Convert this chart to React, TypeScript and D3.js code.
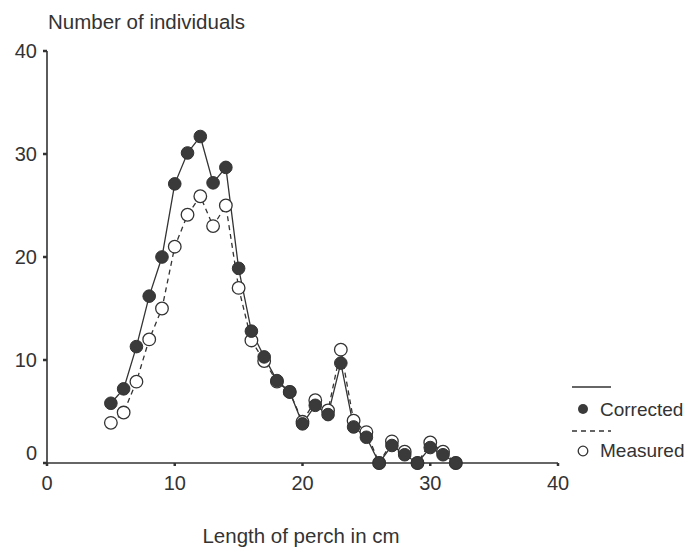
import React from "react";
import * as d3 from "d3";

const lengths = [5, 6, 7, 8, 9, 10, 11, 12, 13, 14, 15, 16, 17, 18, 19, 20, 21, 22, 23, 24, 25, 26, 27, 28, 29, 30, 31, 32];
const corrected = [5.8, 7.2, 11.3, 16.2, 20, 27.1, 30.1, 31.7, 27.2, 28.7, 18.9, 12.8, 10.3, 8, 6.9, 3.8, 5.6, 4.7, 9.7, 3.5, 2.5, 0, 1.7, 0.8, 0, 1.5, 0.8, 0];
const measured = [3.9, 4.9, 7.9, 12, 15, 21, 24.1, 25.9, 23, 25, 17, 11.9, 9.9, 7.9, 6.9, 4, 6.1, 5.1, 11, 4.1, 3, 0, 2.1, 1.1, 0, 2, 1.1, 0];
const xTicks = [0, 10, 20, 30, 40];
const yTicks = [0, 10, 20, 30, 40];

const font = "'Liberation Sans', Arial, sans-serif";
const ink = "#333";

export default function App() {
  const width = 686;
  const height = 548;
  const x = d3.scaleLinear().domain([0, 40]).range([47, 558]);
  const y = d3.scaleLinear().domain([0, 40]).range([463, 51]);

  const line = d3
    .line<number>()
    .x((d, i) => x(lengths[i]))
    .y((d) => y(d));

  return (
    <svg width={width} height={height} style={{ position: "absolute", left: 0, top: 0, background: "#fff" }}>
      <rect width={width} height={height} fill="#fff" />
      <g fontFamily={font} fill={ink}>
        <text x={48} y={29} fontSize={20.5}>Number of individuals</text>
        <text x={301} y={543} fontSize={20.5} textAnchor="middle">Length of perch in cm</text>
      </g>

      {/* axes */}
      <line x1={x(0)} x2={x(0)} y1={y(40)} y2={y(0)} stroke={ink} strokeWidth={1.6} />
      <line x1={x(0)} x2={x(40)} y1={y(0)} y2={y(0)} stroke={ink} strokeWidth={1.6} />
      {yTicks.map((t) => (
        <g key={"y" + t}>
          <line x1={x(0) - 4} x2={x(0)} y1={y(t)} y2={y(t)} stroke={ink} strokeWidth={2.5} />
          <text
            x={37}
            y={t === 0 ? y(t) - 10 : y(t)}
            dy="0.35em"
            textAnchor="end"
            fontFamily={font}
            fontSize={20}
            fill={ink}
          >
            {t}
          </text>
        </g>
      ))}
      {xTicks.map((t) => (
        <g key={"x" + t}>
          <line x1={x(t)} x2={x(t)} y1={y(0)} y2={y(0) + 3} stroke={ink} strokeWidth={2.5} />
          <text x={x(t)} y={y(0) + 20} dy="0.35em" textAnchor="middle" fontFamily={font} fontSize={20} fill={ink}>
            {t}
          </text>
        </g>
      ))}

      {/* series */}
      <path d={line(measured) || ""} fill="none" stroke={ink} strokeWidth={1.3} strokeDasharray="5,4" />
      <path d={line(corrected) || ""} fill="none" stroke={ink} strokeWidth={1.3} />
      {measured.map((v, i) => (
        <circle key={"m" + i} cx={x(lengths[i])} cy={y(v)} r={6.3} fill="#fff" stroke={ink} strokeWidth={1.3} />
      ))}
      {corrected.map((v, i) => (
        <circle key={"c" + i} cx={x(lengths[i])} cy={y(v)} r={6.3} fill="#3a3a3a" stroke={ink} strokeWidth={1} />
      ))}

      {/* legend */}
      <line x1={572} x2={611} y1={387} y2={387} stroke={ink} strokeWidth={1.3} />
      <circle cx={583} cy={409} r={5} fill="#3a3a3a" />
      <text x={600} y={416} fontFamily={font} fontSize={19} fill={ink}>Corrected</text>
      <line x1={572} x2={611} y1={431} y2={431} stroke={ink} strokeWidth={1.3} strokeDasharray="5,4" />
      <circle cx={583} cy={451} r={4.8} fill="#fff" stroke={ink} strokeWidth={1.3} />
      <text x={600} y={457} fontFamily={font} fontSize={19} fill={ink}>Measured</text>
    </svg>
  );
}
